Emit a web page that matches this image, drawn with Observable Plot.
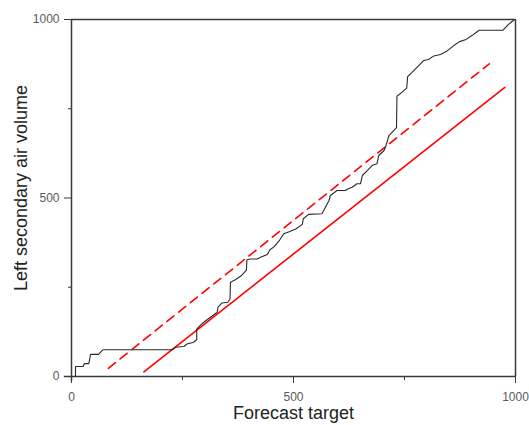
<!DOCTYPE html>
<html>
<head>
<meta charset="utf-8">
<script src="https://cdn.jsdelivr.net/npm/d3@7"></script>
<script src="https://cdn.jsdelivr.net/npm/@observablehq/plot@0.6"></script>
<style>
  html, body { margin: 0; padding: 0; background: #fff; }
  svg { display: block; }
</style>
</head>
<body>
<div id="chart"></div>
<script>
// Black empirical curve (forecast target vs. left secondary air volume)
const curveX = [9,9,26,29,39,43,61,71,227,234,253,260,275,282,282,290,298,313,328,330,339,352,357,358,369,382,394,395,403,418,426,441,447,456,467,478,489,505,520,522,534,564,568,574,580,583,598,617,622,632,643,651,655,666,677,688,692,704,707,715,722,732,733,744,755,757,767,782,793,804,816,831,846,861,874,887,902,918,972,983,998];
const curveY = [0,28,28,36,36,62,62,75,75,82,84,91,96,103,133,143,152,166,180,194,206,208,217,264,271,282,298,327,329,329,334,342,355,363,379,400,405,413,426,442,454,456,465,479,493,507,521,521,525,530,540,540,563,577,591,596,619,633,642,675,684,697,785,796,808,840,852,871,885,888,898,902,912,927,938,943,955,970,970,985,1000];

// Red solid line endpoints
const solidX = [163, 976];
const solidY = [13, 810];
// Red dashed line endpoints
const dashX = [83, 941];
const dashY = [23, 876];

// Axis ticks
const majorTicks = [0, 500, 1000];
const minorTicks = [250, 750];

const curve = curveX.map((x, i) => ({x, y: curveY[i]}));
const solid = solidX.map((x, i) => ({x, y: solidY[i]}));
const dashed = dashX.map((x, i) => ({x, y: dashY[i]}));

const axisColor = "#3a3a3a";
const font = "Liberation Sans, Arial, sans-serif";

const chart = Plot.plot({
  width: 529,
  height: 425,
  marginLeft: 71,
  marginRight: 14,
  marginTop: 19,
  marginBottom: 49,
  style: {fontFamily: font, background: "#fff"},
  x: {domain: [0, 1000], axis: null},
  y: {domain: [0, 1000], axis: null},
  marks: [
    // frame lines
    Plot.ruleY([1000], {stroke: axisColor, strokeWidth: 1.5}),
    Plot.ruleX([1000], {stroke: axisColor, strokeWidth: 1.5}),
    // axes lines extending past the origin
    Plot.ruleY([0], {x1: -16, x2: 1000, stroke: axisColor, strokeWidth: 1.5, clip: false}),
    Plot.ruleX([0], {y1: -14, y2: 1000, stroke: axisColor, strokeWidth: 1.5, clip: false}),
    // ticks
    Plot.axisX({ticks: majorTicks, tickSize: 7, tickPadding: 9, stroke: axisColor, fill: "#5a5a5a", fontSize: 12, tickFormat: d => String(d), anchor: "bottom", label: null}),
    Plot.axisX({ticks: minorTicks, tickSize: 4, stroke: axisColor, text: null, anchor: "bottom", label: null}),
    Plot.axisY({ticks: majorTicks, tickSize: 7, tickPadding: 5, stroke: axisColor, fill: "#5a5a5a", fontSize: 12, tickFormat: d => String(d), anchor: "left", label: null}),
    Plot.axisY({ticks: minorTicks, tickSize: 3, stroke: axisColor, text: null, anchor: "left", label: null}),
    // data
    Plot.line(dashed, {x: "x", y: "y", stroke: "#ff0000", strokeWidth: 1.6, strokeDasharray: "9,6"}),
    Plot.line(solid, {x: "x", y: "y", stroke: "#ff0000", strokeWidth: 1.6}),
    Plot.line(curve, {x: "x", y: "y", stroke: "#2a2a2a", strokeWidth: 1.1}),
    // titles
    Plot.text(["Forecast target"], {frameAnchor: "bottom", dy: 37, fontSize: 18, fill: "#222", lineAnchor: "middle"}),
    Plot.text(["Left secondary air volume"], {frameAnchor: "left", textAnchor: "middle", rotate: -90, dx: -50, dy: -10, fontSize: 18, fill: "#222", lineAnchor: "middle"})
  ]
});
document.getElementById("chart").appendChild(chart);
</script>
</body>
</html>
